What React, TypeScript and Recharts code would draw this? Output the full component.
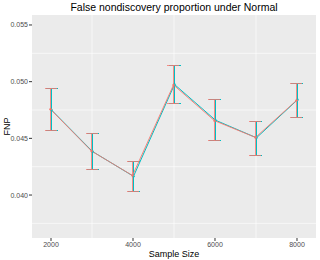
import { CartesianGrid, ErrorBar, Line, LineChart, ReferenceLine, XAxis, YAxis, Label } from "recharts";

const sampleSizes = [2000, 3000, 4000, 5000, 6000, 7000, 8000];
const meanA = [0.04756, 0.04388, 0.04172, 0.04971, 0.04656, 0.04508, 0.04835];
const lowA = [0.04568, 0.04222, 0.04030, 0.04805, 0.04480, 0.04348, 0.04688];
const highA = [0.04940, 0.04542, 0.04295, 0.05146, 0.04839, 0.04652, 0.04980];
const meanB = [0.04750, 0.04384, 0.04165, 0.04975, 0.04660, 0.04505, 0.04840];
const lowB = [0.04568, 0.04222, 0.04030, 0.04805, 0.04480, 0.04348, 0.04688];
const highB = [0.04940, 0.04542, 0.04295, 0.05146, 0.04839, 0.04652, 0.04980];
const xTicks = [2000, 4000, 6000, 8000];
const yTicks = [0.04, 0.045, 0.05, 0.055];
const xMinor = [3000, 5000, 7000];
const yMinor = [0.0375, 0.0425, 0.0475, 0.0525];

const data = sampleSizes.map((s, i) => ({
  size: s,
  a: meanA[i],
  b: meanB[i],
  errA: [meanA[i] - lowA[i], highA[i] - meanA[i]],
  errB: [meanB[i] - lowB[i], highB[i] - meanB[i]],
}));

// position dodge: each series gets its own x axis, shifted half a pixel
const xDomain = [1536.5, 8463.5];
const yDomain = [0.03621, 0.05588];
const dodge = 12.2;

const RED = "#F8766D";
const CYAN = "#00BFC4";
const font = "'Liberation Sans', Arial, sans-serif";

const App = () => {
  return (
    <div style={{ position: "absolute", left: 0, top: 0, width: 320, height: 260, background: "#fff", fontFamily: font }}>
      <div
        style={{
          position: "absolute",
          top: 1,
          left: 32,
          width: 284,
          textAlign: "center",
          fontSize: 10.5,
          color: "#000",
        }}
      >
        False nondiscovery proportion under Normal
      </div>
      <LineChart width={320} height={260} data={data} margin={{ top: 15, right: 4, bottom: 0, left: 0 }}>
        <rect x={32} y={15} width={284} height={223} fill="#EBEBEB" />
        {xMinor.map((v) => (
          <ReferenceLine key={`xm${v}`} xAxisId="main" yAxisId="ya" x={v} stroke="#fff" strokeWidth={0.6} ifOverflow="hidden" />
        ))}
        {yMinor.map((v) => (
          <ReferenceLine key={`ym${v}`} xAxisId="main" yAxisId="ya" y={v} stroke="#fff" strokeWidth={0.6} ifOverflow="hidden" />
        ))}
        <CartesianGrid xAxisId="main" yAxisId="ya" stroke="#fff" strokeWidth={1.1} fill="#EBEBEB" />
        <XAxis
          xAxisId="main"
          dataKey="size"
          type="number"
          domain={xDomain}
          ticks={xTicks}
          allowDataOverflow
          axisLine={false}
          tickSize={3}
          tickLine={{ stroke: "#333" }}
          tickMargin={1}
          height={22}
          tick={{ fontSize: 7, fill: "#4D4D4D", fontFamily: font }}
        >
          <Label value="Sample Size" position="insideBottom" offset={3} style={{ fontSize: 9, fill: "#000", fontFamily: font }} />
        </XAxis>
        <XAxis xAxisId="a" dataKey="size" type="number" domain={[xDomain[0] + dodge, xDomain[1] + dodge]} allowDataOverflow hide height={0} />
        <XAxis xAxisId="b" dataKey="size" type="number" domain={[xDomain[0] - dodge, xDomain[1] - dodge]} allowDataOverflow hide height={0} />
        <YAxis
          yAxisId="ya"
          type="number"
          domain={yDomain}
          ticks={yTicks}
          allowDataOverflow
          axisLine={false}
          tickSize={3}
          tickLine={{ stroke: "#333" }}
          tickMargin={1}
          width={32}
          tickFormatter={(v) => v.toFixed(3)}
          tick={{ fontSize: 7, fill: "#4D4D4D", fontFamily: font }}
        >
          <Label value="FNP" angle={-90} position="insideLeft" offset={7} style={{ fontSize: 9, fill: "#000", fontFamily: font, textAnchor: "middle" }} />
        </YAxis>
        <YAxis yAxisId="yb" type="number" domain={yDomain} allowDataOverflow hide width={0} />
        <Line
          xAxisId="b"
          yAxisId="yb"
          dataKey="b"
          stroke={CYAN}
          strokeWidth={1}
          dot={{ r: 1.2, fill: CYAN, stroke: CYAN, strokeWidth: 0 }}
          activeDot={false}
          isAnimationActive={false}
        >
          <ErrorBar dataKey="errB" direction="y" width={6} stroke={CYAN} strokeWidth={1} shapeRendering="crispEdges" />
        </Line>
        <Line
          xAxisId="a"
          yAxisId="ya"
          dataKey="a"
          stroke={RED}
          strokeWidth={1}
          strokeOpacity={0.9}
          dot={{ r: 1.2, fill: RED, stroke: RED, strokeWidth: 0 }}
          activeDot={false}
          isAnimationActive={false}
        >
          <ErrorBar dataKey="errA" direction="y" width={6} stroke={RED} strokeOpacity={0.8} strokeWidth={1} shapeRendering="crispEdges" />
        </Line>
      </LineChart>
    </div>
  );
};

export default App;
